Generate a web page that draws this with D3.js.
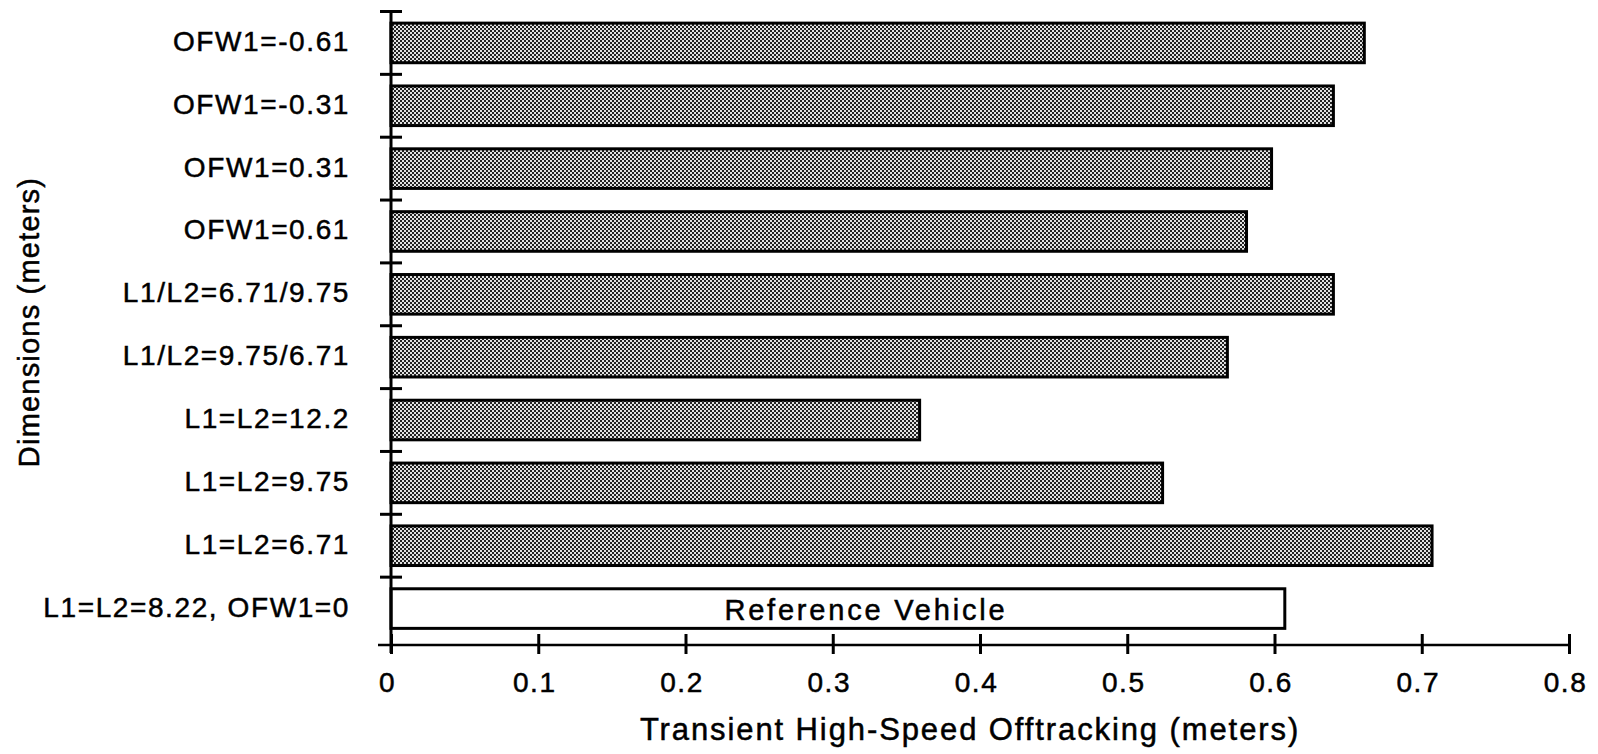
<!DOCTYPE html>
<html>
<head>
<meta charset="utf-8">
<script src="https://cdn.jsdelivr.net/npm/d3@7"></script>
<style>
  html, body { margin: 0; padding: 0; background: #fff; }
  svg { display: block; }
  text { font-family: "Liberation Sans", Arial, Helvetica, sans-serif; fill: #000; stroke: #000; stroke-width: 0.5px; }
</style>
</head>
<body>
<script>
// ---- data ----
const categories = [
  "OFW1=-0.61",
  "OFW1=-0.31",
  "OFW1=0.31",
  "OFW1=0.61",
  "L1/L2=6.71/9.75",
  "L1/L2=9.75/6.71",
  "L1=L2=12.2",
  "L1=L2=9.75",
  "L1=L2=6.71",
  "L1=L2=8.22, OFW1=0"
];
const offtracking = [0.661, 0.640, 0.598, 0.581, 0.640, 0.568, 0.359, 0.524, 0.707, 0.607];
const isReference = [false, false, false, false, false, false, false, false, false, true];
const xTicks = [0, 0.1, 0.2, 0.3, 0.4, 0.5, 0.6, 0.7, 0.8];
const xTickLabels = ["0", "0.1", "0.2", "0.3", "0.4", "0.5", "0.6", "0.7", "0.8"];
const referenceLabel = "Reference Vehicle";
const xTitle = "Transient High-Speed Offtracking (meters)";
const yTitle = "Dimensions (meters)";

// ---- layout ----
const W = 1598, H = 754;
const x0 = 391, x1 = 1569;
const yTop = 11.5, yBand = 640, yAxis = 645;

const svg = d3.select("body").append("svg").attr("width", W).attr("height", H);

// halftone pattern
const defs = svg.append("defs");
const pat = defs.append("pattern").attr("id", "halftone")
  .attr("patternUnits", "userSpaceOnUse").attr("width", 4).attr("height", 4);
pat.append("rect").attr("width", 4).attr("height", 4).attr("fill", "#e2e2e2");
pat.append("rect").attr("x", 0).attr("y", 0).attr("width", 2).attr("height", 2).attr("fill", "#222");
pat.append("rect").attr("x", 2).attr("y", 2).attr("width", 2).attr("height", 2).attr("fill", "#222");

const x = d3.scaleLinear().domain([0, 0.8]).range([x0, x1]);
const y = d3.scaleBand().domain(categories).range([yTop, yBand])
  .paddingInner(0.37).paddingOuter(0.185);
const yIdx = d3.scaleLinear().domain([0, categories.length]).range([yTop, yBand]);

// bars
const rows = categories.map((c, i) => ({ c, v: offtracking[i], ref: isReference[i] }));
svg.append("g").selectAll("rect").data(rows).join("rect")
  .attr("x", x(0))
  .attr("y", d => y(d.c))
  .attr("width", d => x(d.v) - x(0))
  .attr("height", y.bandwidth())
  .attr("fill", d => d.ref ? "#fff" : "url(#halftone)")
  .attr("stroke", "#000")
  .attr("stroke-width", 3);

// reference label
rows.filter(d => d.ref).forEach(d => {
  svg.append("text")
    .attr("x", (x(0) + x(d.v)) / 2 + 28)
    .attr("y", y(d.c) + y.bandwidth() / 2 + 11)
    .attr("text-anchor", "middle")
    .style("font-size", "29px")
    .style("letter-spacing", "2.8px")
    .text(referenceLabel);
});

// y axis line
svg.append("line")
  .attr("x1", x(0)).attr("x2", x(0))
  .attr("y1", yIdx(0)).attr("y2", yAxis + 8)
  .attr("stroke", "#000").attr("stroke-width", 3);

// y ticks at band boundaries
svg.append("g").selectAll("line").data(d3.range(categories.length)).join("line")
  .attr("x1", x(0) - 11).attr("x2", x(0) + 11)
  .attr("y1", i => yIdx(i)).attr("y2", i => yIdx(i))
  .attr("stroke", "#000").attr("stroke-width", 3);

// y category labels
svg.append("g").selectAll("text").data(categories).join("text")
  .attr("x", 350)
  .attr("y", d => y(d) + y.bandwidth() / 2 + 8)
  .attr("text-anchor", "end")
  .style("font-size", "28px")
  .style("letter-spacing", "1.6px")
  .text(d => d);

// x axis
const xAxis = d3.axisBottom(x).tickValues(xTicks)
  .tickFormat((d, i) => xTickLabels[i]).tickSize(9).tickPadding(18);
const gx = svg.append("g").attr("transform", `translate(0,${yAxis})`).call(xAxis);
gx.select(".domain").remove();
gx.append("line").attr("x1", x(0) - 13).attr("x2", x(0.8))
  .attr("y1", 0).attr("y2", 0).attr("stroke", "#000").attr("stroke-width", 2.5);
gx.selectAll(".tick line").attr("y1", -11).attr("y2", 9)
  .attr("stroke", "#000").attr("stroke-width", 3);
gx.selectAll(".tick text")
  .attr("dx", -4)
  .attr("dy", "0.71em")
  .attr("fill", "#000")
  .style("font-family", "'Liberation Sans', Arial, Helvetica, sans-serif")
  .style("font-size", "28px")
  .style("letter-spacing", "1.5px");

// axis titles
svg.append("text")
  .attr("x", 970).attr("y", 740)
  .attr("text-anchor", "middle")
  .style("font-size", "31px")
  .style("letter-spacing", "1.9px")
  .text(xTitle);

svg.append("text")
  .attr("transform", "translate(39,322) rotate(-90)")
  .attr("text-anchor", "middle")
  .style("font-size", "29px")
  .style("letter-spacing", "1.2px")
  .text(yTitle);
</script>
</body>
</html>
